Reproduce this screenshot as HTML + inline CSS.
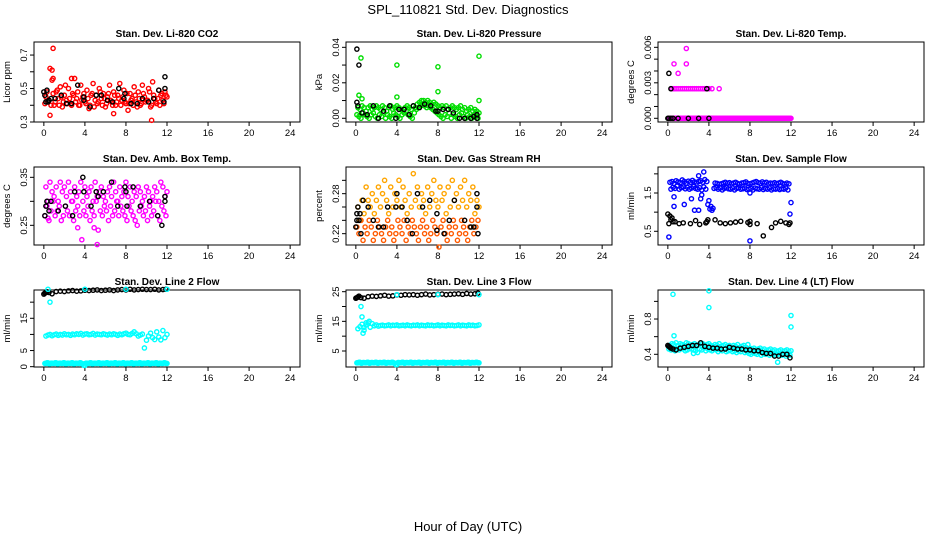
<!DOCTYPE html>
<html><head><meta charset="utf-8"><style>
html,body{margin:0;padding:0;background:#fff}
svg{display:block;font-family:"Liberation Sans",Arial,sans-serif}
</style></head><body>
<svg id="c" width="936" height="540" viewBox="0 0 936 540" xmlns="http://www.w3.org/2000/svg">
<text x="468" y="14" text-anchor="middle" font-size="13">SPL_110821  Std. Dev. Diagnostics</text>
<text x="468" y="531" text-anchor="middle" font-size="13">Hour of Day (UTC)</text>
</svg>
<script>
// ---------- shared time grid ----------
const T60 = [0.2,0.4,0.6,0.8,1.0,1.2,1.4,1.6,1.8,2.0,2.2,2.4,2.6,2.8,3.0,3.2,3.4,3.6,3.8,4.0,4.2,4.4,4.6,4.8,5.0,5.2,5.4,5.6,5.8,6.0,6.2,6.4,6.6,6.8,7.0,7.2,7.4,7.6,7.8,8.0,8.2,8.4,8.6,8.8,9.0,9.2,9.4,9.6,9.8,10.0,10.2,10.4,10.6,10.8,11.0,11.2,11.4,11.6,11.8,12.0];
const xTicks = [0,4,8,12,16,20,24];
const xTickLabels = ["0","4","8","12","16","20","24"];

// ---------- panel 1: CO2 ----------
const co2RedA = [.45,.42,.62,.55,.40,.48,.44,.51,.39,.46,.43,.50,.41,.47,.56,.44,.40,.52,.45,.42,.49,.38,.46,.53,.43,.41,.50,.44,.47,.39,.45,.52,.42,.48,.40,.46,.53,.43,.49,.41,.37,.47,.44,.51,.42,.48,.40,.52,.45,.43,.50,.39,.54,.44,.41,.49,.46,.43,.48,.45];
const co2RedB = [.41,.48,.43,.40,.47,.42,.49,.40,.45,.42,.52,.41,.44,.40,.46,.42,.48,.40,.43,.47,.41,.44,.40,.47,.39,.46,.42,.48,.40,.44,.41,.47,.43,.40,.46,.42,.44,.40,.45,.42,.47,.41,.43,.40,.46,.39,.44,.41,.47,.42,.43,.48,.40,.46,.42,.44,.40,.47,.41,.46];
const co2RedOutT = [0.9,0.8,0.6,10.5,0.9,2.7,6.8];
const co2RedOutV = [0.74,0.61,0.34,0.31,0.56,0.56,0.35];
const co2BlkT = [0,0.1,0.2,0.3,0.4,0.5,0.7,1.1,1.7,2.2,2.7,3.3,3.9,3.9,4.5,5.1,5.6,6.2,6.7,7.3,7.8,7.9,8.5,9.1,9.6,10.2,10.7,11.2,11.7,11.8,11.8];
const co2BlkV = [.48,.46,.42,.49,.42,.43,.44,.44,.46,.41,.41,.52,.45,.43,.39,.46,.46,.43,.42,.50,.44,.47,.41,.41,.44,.42,.44,.49,.42,.50,.57];

// ---------- panel 2: pressure ----------
const prGreenA = [.006,.005,.007,.006,.004,.006,.007,.005,.006,.007,.006,.005,.007,.006,.004,.006,.007,.005,.006,.007,.006,.005,.004,.006,.007,.006,.005,.007,.006,.008,.009,.010,.010,.009,.010,.009,.008,.009,.008,.007,.006,.007,.006,.007,.005,.006,.007,.006,.005,.006,.007,.005,.006,.004,.005,.006,.004,.005,.004,.003];
const prGreenB = [.002,.001,.000,.003,.002,.001,.000,.002,.003,.001,.000,.002,.001,.003,.000,.002,.001,.000,.003,.002,.001,.000,.002,.003,.004,.002,.001,.000,.003,.005,.006,.007,.008,.007,.006,.007,.006,.005,.004,.003,.002,.001,.000,.002,.001,.003,.000,.002,.001,.000,.002,.003,.001,.000,.002,.001,.000,.002,.001,.000];
const prGreenOutT = [0.5,4.0,8.0,12.0,0.3,4.0,8.0,12.0,0.6];
const prGreenOutV = [0.034,0.030,0.029,0.035,0.013,0.012,0.015,0.010,0.011];
const prBlkT = [0.1,0.3,0.1,0.2,0.6,1.1,1.7,2.2,2.7,3.3,3.9,4.2,4.7,5.2,5.6,6.2,6.7,7.3,7.8,8.0,8.5,9.0,9.5,10.1,10.6,11.2,11.5,11.8,11.8];
const prBlkV = [0.039,0.030,0.009,0.007,0.003,0.002,0.007,0.000,0.004,0.007,0.000,0.005,0.005,0.002,0.007,0.006,0.008,0.007,0.004,0.004,0.005,0.005,0.003,0.000,0.000,0.000,0.001,0.002,0.000];

// ---------- panel 3: Li-820 temp ----------
const tpMagZero = [0,0,0,0,0,0,0,0,0,0,0,0,0,0,0,0,0,0,0,0,0,0,0,0,0,0,0,0,0,0,0,0,0,0,0,0,0,0,0,0,0,0,0,0,0,0,0,0,0,0,0,0,0,0,0,0,0,0,0,0];
const tpMidT = [0.4,0.6,0.8,1.0,1.2,1.4,1.6,1.8,2.0,2.2,2.4,2.6,2.8,3.0,3.2,3.4,3.6,3.8,4.0,4.3,5.0];
const tpMidV = [.0025,.0025,.0025,.0025,.0025,.0025,.0025,.0025,.0025,.0025,.0025,.0025,.0025,.0025,.0025,.0025,.0025,.0025,.0025,.0025,.0025];
const tpMagOutT = [0.6,1.0,1.8,1.8];
const tpMagOutV = [0.0046,0.0038,0.0059,0.0046];
const tpBlkT = [0.1,0.3,3.8,0,0.1,0.3,0.5,1.0,2.0,3.0,4.0];
const tpBlkV = [0.0038,0.0025,0.0025,0,0,0,0,0,0,0,0];

// ---------- panel 4: ambient box temp ----------
const ambA = [.33,.30,.34,.32,.31,.33,.30,.34,.32,.33,.31,.34,.32,.30,.33,.31,.32,.34,.30,.33,.31,.32,.33,.30,.34,.31,.32,.33,.31,.30,.32,.33,.31,.34,.32,.30,.33,.31,.32,.34,.31,.33,.30,.32,.31,.33,.32,.30,.31,.33,.32,.30,.31,.33,.32,.30,.34,.33,.31,.32];
const ambB = [.27,.29,.26,.28,.30,.27,.28,.29,.26,.27,.29,.28,.27,.30,.26,.28,.29,.27,.22,.28,.27,.29,.26,.28,.27,.30,.24,.28,.27,.29,.28,.26,.29,.27,.28,.30,.27,.29,.28,.27,.26,.29,.28,.27,.26,.25,.28,.29,.27,.28,.26,.29,.27,.28,.30,.27,.26,.29,.28,.27];
const ambOutT = [5.2,3.3,4.9,0.4];
const ambOutV = [0.21,0.245,0.245,0.265];
const ambBlkT = [0.1,0.2,0.3,0.5,0.7,1.4,2.1,2.8,3.0,3.8,3.9,4.6,5.1,5.3,5.8,6.6,7.2,7.9,8.0,8.1,8.7,9.4,10.3,11.1,11.5,11.8,11.8];
const ambBlkV = [.27,.29,.30,.28,.30,.28,.29,.27,.32,.35,.32,.29,.32,.31,.32,.34,.29,.33,.32,.29,.33,.29,.30,.27,.25,.30,.31];

// ---------- panel 5: gas stream RH ----------
const rhA = [.26,.24,.27,.25,.29,.27,.26,.28,.25,.27,.29,.26,.28,.30,.27,.25,.29,.26,.28,.27,.30,.26,.29,.27,.25,.28,.26,.31,.27,.29,.26,.28,.27,.25,.29,.26,.28,.30,.27,.26,.29,.27,.28,.25,.29,.26,.30,.27,.28,.26,.29,.27,.30,.26,.28,.27,.29,.25,.27,.26];
const rhB = [.23,.22,.24,.21,.23,.22,.24,.23,.21,.22,.24,.23,.22,.21,.23,.24,.22,.23,.21,.22,.24,.23,.22,.24,.21,.23,.22,.24,.23,.22,.21,.23,.24,.22,.23,.21,.22,.24,.23,.22,.20,.23,.24,.22,.21,.23,.22,.24,.23,.21,.22,.24,.23,.22,.21,.23,.24,.22,.23,.24];
const rhBlkT = [0,0.1,0.1,0.2,0.3,0.4,0.5,0.7,1.2,1.7,2.2,2.7,3.1,3.9,4.0,4.5,5.0,5.5,6.0,6.5,7.2,7.9,7.9,8.6,9.1,9.6,10.6,11.2,11.5,11.8,11.8,11.9];
const rhBlkV = [.23,.25,.24,.26,.24,.25,.22,.27,.26,.24,.23,.23,.26,.26,.28,.26,.24,.22,.28,.26,.27,.25,.225,.22,.24,.27,.24,.23,.23,.28,.26,.22];

// ---------- panel 6: sample flow ----------
const sfBlueA = [1.78,1.80,1.75,1.82,1.79,1.77,1.84,1.80,1.76,1.81,1.78,1.83,1.79,1.76,1.80,1.82,1.78,1.85,1.80,1.3,1.15,1.10,1.76,1.75,1.73,1.74,1.76,1.78,1.75,1.77,1.74,1.76,1.78,1.75,1.73,1.76,1.77,1.79,1.75,1.74,1.76,1.78,1.80,1.77,1.75,1.79,1.76,1.78,1.74,1.76,1.75,1.77,1.74,1.76,1.78,1.75,1.73,1.76,1.74,1.25];
const sfBlueB = [0.35,1.60,1.65,1.62,1.68,1.60,1.64,1.66,1.61,1.65,1.60,1.63,1.67,1.62,1.60,1.64,1.58,1.66,1.60,1.20,1.08,1.05,1.62,1.64,1.60,1.63,1.58,1.62,1.65,1.61,1.60,1.63,1.58,1.62,1.64,1.60,1.61,1.63,1.59,1.60,1.62,1.58,1.63,1.61,1.60,1.64,1.59,1.62,1.60,1.63,1.58,1.61,1.60,1.62,1.59,1.61,1.60,1.63,1.58,0.95];
const sfBlueOutT = [0.6,0.6,1.6,2.3,2.6,3.0,3.2,3.3,3.0,3.5,8.0,8.0];
const sfBlueOutV = [1.4,1.15,1.2,1.35,1.05,1.05,1.35,1.45,1.95,2.05,0.25,1.5];
const sfBlkT = [0,0.1,0.2,0.3,0.4,0.5,0.7,1.1,1.5,2.2,2.7,3.1,3.7,3.8,3.9,4.6,5.1,5.6,6.1,6.6,7.1,7.8,8.0,8.0,8.7,9.3,10.1,10.5,11.0,11.5,11.8,11.9];
const sfBlkV = [.95,.7,.9,.8,.85,.75,.75,.7,.72,.7,.78,.68,.72,.75,.8,.8,.72,.7,.72,.74,.76,.73,.76,.68,.7,.38,.6,.72,.76,.72,.68,.72];

// ---------- panel 7: line 2 flow ----------
const lfBlkT = [0,0.1,0.2,0.3,0.5,0.8,1.2,1.6,2.0,2.4,2.8,3.2,3.6,4.0,4.4,4.8,5.2,5.6,6.0,6.4,6.8,7.2,7.6,8.0,8.4,8.8,9.2,9.6,10.0,10.4,10.8,11.2,11.6,11.9];
const l2BlkV = [22.5,22.8,23,23.2,23,22.6,23.3,23.4,23.3,23.5,23.6,23.4,23.5,23.7,23.6,23.7,23.8,23.6,23.7,23.8,23.6,23.8,23.9,23.8,24,23.8,23.9,24,23.9,23.9,24,23.8,23.9,24];
const l2Mid = [9.5,9.8,10.0,9.6,9.9,10.1,9.7,10.0,9.8,10.2,9.9,10.0,9.7,10.1,9.9,10.2,10.0,10.3,9.8,10.1,10.2,9.9,10.0,10.3,9.8,10.1,10.0,9.9,10.2,10.0,9.8,10.1,9.9,10.2,10.0,9.7,10.1,9.9,10.2,10.4,10.0,9.9,10.3,10.8,10.2,9.5,9.8,10.1,5.8,8.2,9.5,10.4,9.0,8.4,10.8,9.2,8.3,11.2,9.0,10.0];
const l2Low = [1.0,1.2,0.9,1.1,1.0,1.2,0.9,1.1,1.0,1.2,0.9,1.1,1.0,1.2,0.9,1.1,1.0,1.2,0.9,0.4,1.1,1.0,1.2,0.9,1.1,1.0,1.2,0.9,1.1,1.0,1.2,0.9,1.1,1.0,1.2,0.9,1.1,1.0,1.2,0.9,1.1,1.0,1.2,0.9,1.1,1.0,1.2,0.9,1.1,1.0,1.2,0.9,1.1,1.0,1.2,0.9,1.1,1.0,1.2,1.0];
const l2CyOutT = [0.6,0.4,4.0,8.0,12.0];
const l2CyOutV = [20,24,24,24,24];

// ---------- panel 8: line 3 flow ----------
const l3BlkV = [22.8,23.0,23.2,23.5,23.0,22.8,23.3,23.5,23.4,23.6,23.8,23.5,23.6,23.9,23.8,24,23.9,24,23.8,24,24.2,23.9,24,24.1,24.2,24,24.1,24.2,24.3,24.1,24.4,24.2,24.3,24.5];
const l3Mid = [12.5,13.2,14.0,13.0,13.8,14.5,13.0,14.2,13.5,13.8,13.4,13.6,13.7,13.5,13.6,13.8,13.5,13.7,13.6,13.8,13.5,13.6,13.7,13.5,13.8,13.6,13.5,13.7,13.6,13.8,13.5,13.7,13.6,13.5,13.8,13.6,13.7,13.5,13.6,13.8,13.5,13.7,13.6,13.5,13.8,13.6,13.7,13.5,13.6,13.8,13.5,13.7,13.6,13.5,13.8,13.6,13.7,13.5,13.6,13.8];
const l3Low = [1.0,1.2,0.9,1.1,1.0,1.2,0.9,1.1,1.0,1.2,0.9,1.1,1.0,1.2,0.9,1.1,1.0,1.2,0.9,0.4,1.1,1.0,1.2,0.9,1.1,1.0,1.2,0.9,1.1,1.0,1.2,0.9,1.1,1.0,1.2,0.9,1.1,1.0,1.2,0.9,1.1,1.0,1.2,0.9,1.1,1.0,1.2,0.9,1.1,1.0,1.2,0.9,1.1,1.0,1.2,0.9,1.1,1.0,1.2,1.0];
const l3CyOutT = [0.5,0.6,0.7,0.8,1.0,1.3,4.0,8.0,12.0];
const l3CyOutV = [20,16.5,11,12,14.5,15,24,24,24];

// ---------- panel 9: line 4 flow ----------
const l4CyA = [.50,.52,.51,.53,.50,.52,.51,.50,.53,.52,.50,.51,.52,.50,.51,.53,.52,.50,.51,.52,.50,.49,.51,.50,.52,.49,.50,.51,.49,.50,.48,.50,.49,.51,.48,.49,.50,.48,.51,.47,.46,.47,.45,.46,.47,.45,.46,.44,.45,.46,.44,.45,.43,.44,.45,.43,.44,.45,.43,.44];
const l4CyB = [.46,.45,.47,.44,.46,.45,.47,.46,.44,.45,.47,.46,.45,.44,.42,.46,.45,.47,.44,.46,.45,.44,.46,.45,.43,.45,.44,.46,.43,.44,.45,.43,.44,.42,.44,.43,.45,.42,.43,.41,.40,.42,.41,.40,.42,.39,.41,.40,.42,.39,.40,.41,.39,.40,.41,.39,.40,.38,.40,.39];
const l4CyOutT = [0.5,4.0,4.0,0.6,12.0,12.0,10.7,2.5];
const l4CyOutV = [1.08,1.12,0.93,0.61,0.84,0.71,0.31,0.41];
const l4BlkV = [.50,.49,.48,.47,.46,.45,.47,.48,.49,.50,.50,.53,.49,.48,.47,.47,.46,.46,.48,.47,.46,.46,.45,.45,.44,.44,.42,.41,.41,.38,.38,.40,.40,.36];

// ---------- rendering ----------
const svg = document.getElementById('c');
const NS = 'http://www.w3.org/2000/svg';
const colX = [34, 346, 658];
const rowY = [42, 167, 290];
const rowH = [80, 78, 77];
const boxW = 266;
const XMIN = -0.96, XMAX = 24.96;

function mk(tag, attrs, parent) {
  const e = document.createElementNS(NS, tag);
  for (const k in attrs) e.setAttribute(k, attrs[k]);
  (parent || svg).appendChild(e);
  return e;
}

const panels = [
  {c:0,r:0,title:"Stan. Dev. Li-820 CO2",ylab:"Licor ppm",ymin:0.3,ymax:0.778,ticks:[0.3,0.4,0.5,0.6,0.7],labs:["0.3","","0.5","","0.7"]},
  {c:1,r:0,title:"Stan. Dev. Li-820 Pressure",ylab:"kPa",ymin:-0.0021,ymax:0.0430,ticks:[0,0.01,0.02,0.03,0.04],labs:["0.00","","0.02","","0.04"]},
  {c:2,r:0,title:"Stan. Dev. Li-820 Temp.",ylab:"degrees C",ymin:-0.000313,ymax:0.00645,ticks:[0,0.001,0.002,0.003,0.004,0.005,0.006],labs:["0.000","","","0.003","","","0.006"]},
  {c:0,r:1,title:"Stan. Dev. Amb. Box Temp.",ylab:"degrees C",ymin:0.209,ymax:0.3715,ticks:[0.25,0.30,0.35],labs:["0.25","","0.35"]},
  {c:1,r:1,title:"Stan. Dev. Gas Stream RH",ylab:"percent",ymin:0.203,ymax:0.32,ticks:[0.22,0.24,0.26,0.28,0.30],labs:["0.22","","","0.28",""]},
  {c:2,r:1,title:"Stan. Dev. Sample Flow",ylab:"ml/min",ymin:0.142,ymax:2.179,ticks:[0.5,1.0,1.5,2.0],labs:["0.5","","1.5",""]},
  {c:0,r:2,title:"Stan. Dev. Line 2 Flow",ylab:"ml/min",ymin:-0.1,ymax:23.77,ticks:[0,5,10,15,20],labs:["0","5","","15",""]},
  {c:1,r:2,title:"Stan. Dev. Line 3 Flow",ylab:"ml/min",ymin:-0.4,ymax:25.57,ticks:[5,10,15,20,25],labs:["5","","15","","25"]},
  {c:2,r:2,title:"Stan. Dev. Line 4 (LT) Flow",ylab:"ml/min",ymin:0.256,ymax:1.129,ticks:[0.4,0.6,0.8,1.0],labs:["0.4","","0.8",""]}
];

function xs(p, t) { return colX[p.c] + (t - XMIN) / (XMAX - XMIN) * boxW; }
function ys(p, v) { return rowY[p.r] + rowH[p.r] - (v - p.ymin) / (p.ymax - p.ymin) * rowH[p.r]; }

panels.forEach((p, i) => {
  const g = mk('g', {});
  
  
  const x0 = colX[p.c], y0 = rowY[p.r], h = rowH[p.r];
  const t = mk('text', {x: x0 + boxW / 2, y: y0 - 5, 'text-anchor': 'middle', 'font-size': 10, 'font-weight': 'bold'}, g);
  t.textContent = p.title;
  
  
  const yl = mk('text', {x: 0, y: 0, 'text-anchor': 'middle', 'font-size': 9.5, transform: `translate(${x0 - 24},${y0 + h / 2}) rotate(-90)`}, g);
  yl.textContent = p.ylab;
  
  
  const box = mk('rect', {x: x0, y: y0, width: boxW, height: h, fill: 'none', stroke: '#000', 'stroke-width': 1}, g);
  
  
  const xb = y0 + h;
  const xl = mk('line', {x1: xs(p, 0), x2: xs(p, 24), y1: xb, y2: xb, stroke: '#000'}, g);
  
  
  xTicks.forEach((v, k) => {
    const tk = mk('line', {x1: xs(p, v), x2: xs(p, v), y1: xb, y2: xb + 4, stroke: '#000'}, g);
    
    
    const lb = mk('text', {x: xs(p, v), y: xb + 14, 'text-anchor': 'middle', 'font-size': 9.5}, g);
    lb.textContent = xTickLabels[k];
    
    
  });
  const yal = mk('line', {x1: x0, x2: x0, y1: ys(p, p.ticks[0]), y2: ys(p, p.ticks[p.ticks.length - 1]), stroke: '#000'}, g);
  
  
  p.ticks.forEach((v, k) => {
    const yy = ys(p, v);
    const tk = mk('line', {x1: x0 - 4, x2: x0, y1: yy, y2: yy, stroke: '#000'}, g);
    
    
    if (p.labs[k]) {
      const lb = mk('text', {x: 0, y: 0, 'text-anchor': 'middle', 'font-size': 9.5, transform: `translate(${x0 - 7},${yy}) rotate(-90)`}, g);
      lb.textContent = p.labs[k];
      
      
    }
  });
  p.g = g;
});

function series(pi, tArr, vArr, color, name, dx) {
  const p = panels[pi];
  const sg = mk('g', {fill: 'none', stroke: color, 'stroke-width': 1.4}, p.g);
  
  
  for (let i = 0; i < vArr.length && i < tArr.length; i++) {
    const c = mk('circle', {cx: xs(p, tArr[i] + (dx || 0)), cy: ys(p, vArr[i]), r: 2.1}, sg);
    
    
  }
}

series(0, T60, co2RedA, '#ff0000', 'co2-red-series');
series(0, T60, co2RedB, '#ff0000', 'co2-red-series-b', -0.1);
series(0, co2RedOutT, co2RedOutV, '#ff0000', 'co2-red-outliers');
series(0, co2BlkT, co2BlkV, '#000', 'co2-black-series');

series(1, T60, prGreenA, '#00dd00', 'pressure-green-series');
series(1, T60, prGreenB, '#00dd00', 'pressure-green-series-b', -0.1);
series(1, prGreenOutT, prGreenOutV, '#00dd00', 'pressure-green-outliers');
series(1, prBlkT, prBlkV, '#000', 'pressure-black-series');

series(2, T60, tpMagZero, '#ff00ff', 'temp-magenta-zero');
series(2, T60, tpMagZero, '#ff00ff', 'temp-magenta-zero-b', -0.1);
series(2, tpMidT, tpMidV, '#ff00ff', 'temp-magenta-mid');
series(2, tpMagOutT, tpMagOutV, '#ff00ff', 'temp-magenta-outliers');
series(2, tpBlkT, tpBlkV, '#000', 'temp-black-series');

series(3, T60, ambA, '#ff00ff', 'amb-magenta-series');
series(3, T60, ambB, '#ff00ff', 'amb-magenta-series-b', -0.1);
series(3, ambOutT, ambOutV, '#ff00ff', 'amb-magenta-outliers');
series(3, ambBlkT, ambBlkV, '#000', 'amb-black-series');

series(4, T60, rhA, '#ffa500', 'rh-orange-series');
series(4, T60, rhB, '#ff5a00', 'rh-orange-series-b', -0.1);
series(4, rhBlkT, rhBlkV, '#000', 'rh-black-series');

series(5, T60, sfBlueA, '#0000ff', 'sample-blue-series');
series(5, T60, sfBlueB, '#0000ff', 'sample-blue-series-b', -0.1);
series(5, sfBlueOutT, sfBlueOutV, '#0000ff', 'sample-blue-outliers');
series(5, sfBlkT, sfBlkV, '#000', 'sample-black-series');

series(6, lfBlkT, l2BlkV, '#000', 'line2-black-series');
series(6, T60, l2Mid, '#00ffff', 'line2-cyan-mid');
series(6, T60, l2Low, '#00ffff', 'line2-cyan-low');
series(6, T60, l2Low, '#00ffff', 'line2-cyan-low-b', -0.1);
series(6, l2CyOutT, l2CyOutV, '#00ffff', 'line2-cyan-outliers');

series(7, lfBlkT, l3BlkV, '#000', 'line3-black-series');
series(7, T60, l3Mid, '#00ffff', 'line3-cyan-mid');
series(7, T60, l3Low, '#00ffff', 'line3-cyan-low');
series(7, T60, l3Low, '#00ffff', 'line3-cyan-low-b', -0.1);
series(7, l3CyOutT, l3CyOutV, '#00ffff', 'line3-cyan-outliers');

series(8, T60, l4CyA, '#00ffff', 'line4-cyan-series');
series(8, T60, l4CyB, '#00ffff', 'line4-cyan-series-b', -0.1);
series(8, l4CyOutT, l4CyOutV, '#00ffff', 'line4-cyan-outliers');
series(8, lfBlkT, l4BlkV, '#000', 'line4-black-series');
</script>
</body></html>
